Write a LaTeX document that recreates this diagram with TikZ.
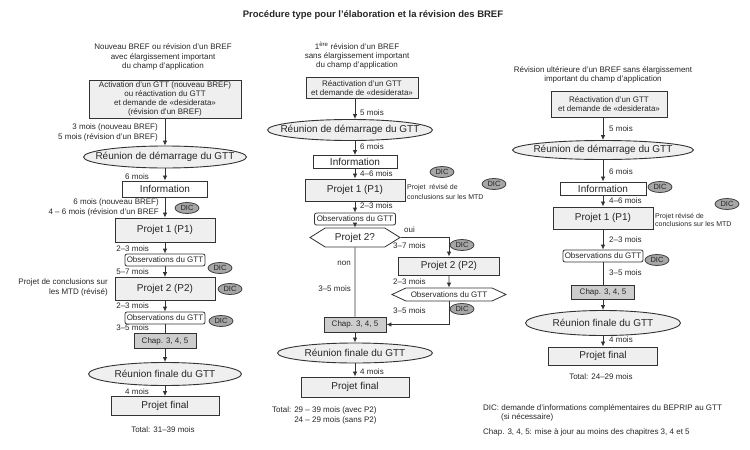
\documentclass[tikz,border=0pt]{standalone}
\usepackage{fontspec}
\setmainfont{Liberation Sans}
\usetikzlibrary{arrows.meta,shapes.geometric,shapes.symbols}
\definecolor{trait}{HTML}{333333}
\definecolor{fondclair}{HTML}{EFEFEF}
\definecolor{fondchap}{HTML}{CDCDCD}
\definecolor{fonddic}{HTML}{A6A6A6}
\newcommand{\zbox}[1]{\makebox[0pt]{#1}}
\tikzset{
	petit/.style={inner sep=1pt, text=black!85, font=\fontsize{8}{9.2}\selectfont},
	mini/.style={inner sep=1pt, text=black!85, align=left, font=\fontsize{7}{8.5}\selectfont},
	entete/.style={petit, align=center},
	boite/.style={rectangle, draw=trait, line width=0.9pt, fill=fondclair, inner sep=0pt, text=black!85, font=\fontsize{10}{12}\selectfont},
	boiteb/.style={boite, fill=white},
	obs/.style={rectangle, rounded corners=2pt, draw=trait, line width=0.8pt, fill=white, inner sep=0pt, minimum width=80, minimum height=12, petit},
	chap/.style={boite, fill=fondchap, minimum width=62, minimum height=15, font=\fontsize{8}{9.2}\selectfont},
	reunion/.style={ellipse, draw=trait, line width=0.9pt, fill=fondclair, inner sep=0pt, text=black!85, font=\fontsize{10}{12}\selectfont},
	hexa/.style={signal, signal to=west and east, draw=trait, line width=0.8pt, fill=white, inner sep=0pt, text=black!85, font=\fontsize{10}{12}\selectfont},
	dic/.style={ellipse, draw=black!75, line width=0.8pt, fill=fonddic, inner sep=0pt, minimum width=24, minimum height=11, text=black!85, font=\fontsize{7.5}{9}\selectfont},
	fleche/.style={draw=trait, line width=0.8pt, -{Latex[length=5pt,width=4.5pt]}},
	ligne/.style={draw=trait, line width=0.8pt}
}

\begin{document}
\begin{tikzpicture}[x=1pt,y=-1pt]
	\useasboundingbox (0,0) rectangle (750,450);
	\node[font=\fontsize{9.5}{11}\selectfont\bfseries, text=black!85] (titre) at (373,15) {Procédure type pour l'élaboration et la révision des BREF};

	% colonne 1 : nouveau BREF
	\node[entete] (ent1) at (163,57) {Nouveau BREF ou révision d'un BREF\\avec élargissement important\\du champ d'application};
	\node[boite, petit, minimum width=152, minimum height=38, align=center] (act1) at (165,99) {Activation d'un GTT (nouveau BREF)\\ou réactivation du GTT\\et demande de «desiderata»\\(révision d'un BREF)};
	\node[reunion, minimum width=163, minimum height=22] (dem1) at (165,157) {\zbox{Réunion de démarrage du GTT}};
	\node[boiteb, minimum width=85, minimum height=16] (inf1) at (165,189) {Information};
	\node[boite, minimum width=100, minimum height=24] (p11) at (165,230) {Projet 1 (P1)};
	\node[obs] (obs11) at (165,260) {Observations du GTT};
	\node[boite, minimum width=100, minimum height=23] (p21) at (165,289) {Projet 2 (P2)};
	\node[obs] (obs12) at (165,318) {Observations du GTT};
	\node[chap] (chap1) at (165,341) {Chap. 3, 4, 5};
	\node[reunion, minimum width=153, minimum height=23] (fin1) at (165,374) {\zbox{Réunion finale du GTT}};
	\node[boite, minimum width=108, minimum height=19] (pf1) at (165,406) {Projet final};
	\node[petit] (tot1) at (163,430) {Total: 31–39 mois};
	\foreach \a/\b in {act1/dem1, dem1/inf1, inf1/p11, p11/obs11, obs11/p21, p21/obs12, chap1/fin1, fin1/pf1}
		\draw[fleche] (\a) -- (\b);
	\draw[ligne] (obs12) -- (chap1);
	\node[petit, anchor=east, align=right] (d11) at (159,132.5) {3 mois (nouveau BREF)\\5 mois (révision d'un BREF)};
	\node[petit, anchor=east] (d12) at (150,177) {6 mois};
	\node[petit, anchor=east, align=right] (d13) at (160,207.5) {6 mois (nouveau BREF)\\4 – 6 mois (révision d'un BREF};
	\node[petit, anchor=east] (d14) at (150,249) {2–3 mois};
	\node[petit, anchor=east] (d15) at (150,272) {5–7 mois};
	\node[petit, anchor=east, align=right] (rem1) at (109,287.5) {Projet de conclusions sur\\les MTD (révisé)};
	\node[petit, anchor=east] (d16) at (150,306) {2–3 mois};
	\node[petit, anchor=east] (d17) at (150,328) {3–5 mois};
	\node[petit, anchor=east] (d18) at (150,392) {4 mois};
	\node[dic] (dic11) at (187,208) {\zbox{DIC}};
	\node[dic] (dic12) at (220,268) {\zbox{DIC}};
	\node[dic] (dic13) at (230,289) {\zbox{DIC}};
	\node[dic] (dic14) at (221,321) {\zbox{DIC}};

	% colonne 2 : 1ere revision
	\node[entete] (ent2) at (357,56) {1\textsuperscript{ère} révision d'un BREF\\sans élargissement important\\du champ d'application};
	\node[boite, petit, minimum width=112, minimum height=21, align=center] (rea2) at (362,88) {Réactivation d'un GTT\\et demande de «desiderata»};
	\node[reunion, minimum width=165, minimum height=21] (dem2) at (350,130) {\zbox{Réunion de démarrage du GTT}};
	\node[boiteb, minimum width=84, minimum height=13] (inf2) at (355,162) {Information};
	\node[boite, minimum width=100, minimum height=22] (p12) at (355,190) {Projet 1 (P1)};
	\node[obs, minimum width=81] (obs21) at (355,219) {Observations du GTT};
	\node[hexa, signal pointer angle=64, minimum width=90, minimum height=19] (q2) at (355,237.5) {Projet 2?};
	\node[boite, minimum width=101, minimum height=18] (p22) at (449,266) {Projet 2 (P2)};
	\node[hexa, petit, signal pointer angle=50, minimum width=114, minimum height=13] (obs22) at (449,294.5) {Observations du GTT};
	\node[chap] (chap2) at (355,324.5) {Chap. 3, 4, 5};
	\node[reunion, minimum width=155, minimum height=20] (fin2) at (355,353) {\zbox{Réunion finale du GTT}};
	\node[boite, minimum width=108, minimum height=20] (pf2) at (355,387) {Projet final};
	\node[petit, anchor=west, align=left] (tot2) at (271,415.5) {Total: 29 – 39 mois (avec P2)\\\phantom{Total: }24 – 29 mois (sans P2)};
	\draw[fleche] (rea2.south -| inf2) -- (dem2.north -| inf2);
	\draw[fleche] (dem2.south -| inf2) -- (inf2);
	\foreach \a/\b in {inf2/p12, p12/obs21, obs21/q2, p22/obs22, chap2/fin2, fin2/pf2}
		\draw[fleche] (\a) -- (\b);
	\draw[fleche] (q2.east) -| (p22);
	\draw[fleche] (obs22) |- (chap2);
	\draw[ligne] (q2) -- (chap2);
	\node[petit, anchor=west] (d21) at (359,113) {5 mois};
	\node[petit, anchor=west] (d22) at (359,147) {6 mois};
	\node[petit, anchor=west] (d23) at (359,174) {4–6 mois};
	\node[petit, anchor=west] (d24) at (359,206) {2–3 mois};
	\node[petit, anchor=west] (oui) at (403,230) {oui};
	\node[petit, anchor=west] (d25) at (392,246) {3–7 mois};
	\node[petit, anchor=east] (non) at (352,263) {non};
	\node[petit, anchor=east] (d26) at (352,289) {3–5 mois};
	\node[petit, anchor=west] (d27) at (392,282) {2–3 mois};
	\node[petit, anchor=west] (d28) at (392,311) {3–5 mois};
	\node[petit, anchor=west] (d29) at (359,372) {4 mois};
	\node[mini, anchor=west, font=\fontsize{7}{9.5}\selectfont] (rem2) at (406,192) {Projet\ \ révisé de\\conclusions sur les MTD};
	\node[dic] (dic21) at (442,172) {\zbox{DIC}};
	\node[dic] (dic22) at (494,184) {\zbox{DIC}};
	\node[dic] (dic23) at (462,245) {\zbox{DIC}};
	\node[dic] (dic24) at (462,309) {\zbox{DIC}};

	% colonne 3 : revision ulterieure
	\node[entete] (ent3) at (603,74.5) {Révision ultérieure d'un BREF sans élargissement\\important du champ d'application};
	\node[boite, petit, minimum width=116, minimum height=26, align=center] (rea3) at (609,104) {Réactivation d'un GTT\\et demande de «desiderata»};
	\node[reunion, minimum width=181, minimum height=19] (dem3) at (603,150) {\zbox{Réunion de démarrage du GTT}};
	\node[boiteb, minimum width=86, minimum height=13] (inf3) at (603,188.5) {Information};
	\node[boite, minimum width=100, minimum height=22] (p13) at (603,218) {Projet 1 (P1)};
	\node[obs] (obs3) at (603,256) {Observations du GTT};
	\node[chap, minimum width=63, minimum height=14] (chap3) at (603,292) {Chap. 3, 4, 5};
	\node[reunion, minimum width=155, minimum height=25] (fin3) at (603,323) {\zbox{Réunion finale du GTT}};
	\node[boite, minimum width=109, minimum height=18] (pf3) at (603,356) {Projet final};
	\node[petit] (tot3) at (601,377) {Total: 24–29 mois};
	\draw[fleche] (rea3.south -| inf3) -- (dem3);
	\foreach \a/\b in {dem3/inf3, inf3/p13, p13/obs3, chap3/fin3, fin3/pf3}
		\draw[fleche] (\a) -- (\b);
	\draw[ligne] (obs3) -- (chap3);
	\node[petit, anchor=west] (d31) at (608,129) {5 mois};
	\node[petit, anchor=west] (d32) at (608,172) {6 mois};
	\node[petit, anchor=west] (d33) at (608,201) {4–6 mois};
	\node[petit, anchor=west] (d34) at (608,240) {2–3 mois};
	\node[petit, anchor=west] (d35) at (608,273) {3–5 mois};
	\node[petit, anchor=west] (d36) at (608,340) {4 mois};
	\node[mini, anchor=west] (rem3) at (654,220) {Projet révisé de\\conclusions sur les MTD};
	\node[dic] (dic31) at (660,187) {\zbox{DIC}};
	\node[dic] (dic32) at (727,204) {\zbox{DIC}};
	\node[dic] (dic33) at (657,260) {\zbox{DIC}};

	% legende
	\node[petit, anchor=west] (leg1) at (482,408) {DIC: demande d'informations complémentaires du BEPRIP au GTT};
	\node[petit, anchor=west] (leg2) at (500,417) {(si nécessaire)};
	\node[petit, anchor=west] (leg3) at (482,432) {Chap. 3, 4, 5: mise à jour au moins des chapitres 3, 4 et 5};
\end{tikzpicture}
\end{document}
